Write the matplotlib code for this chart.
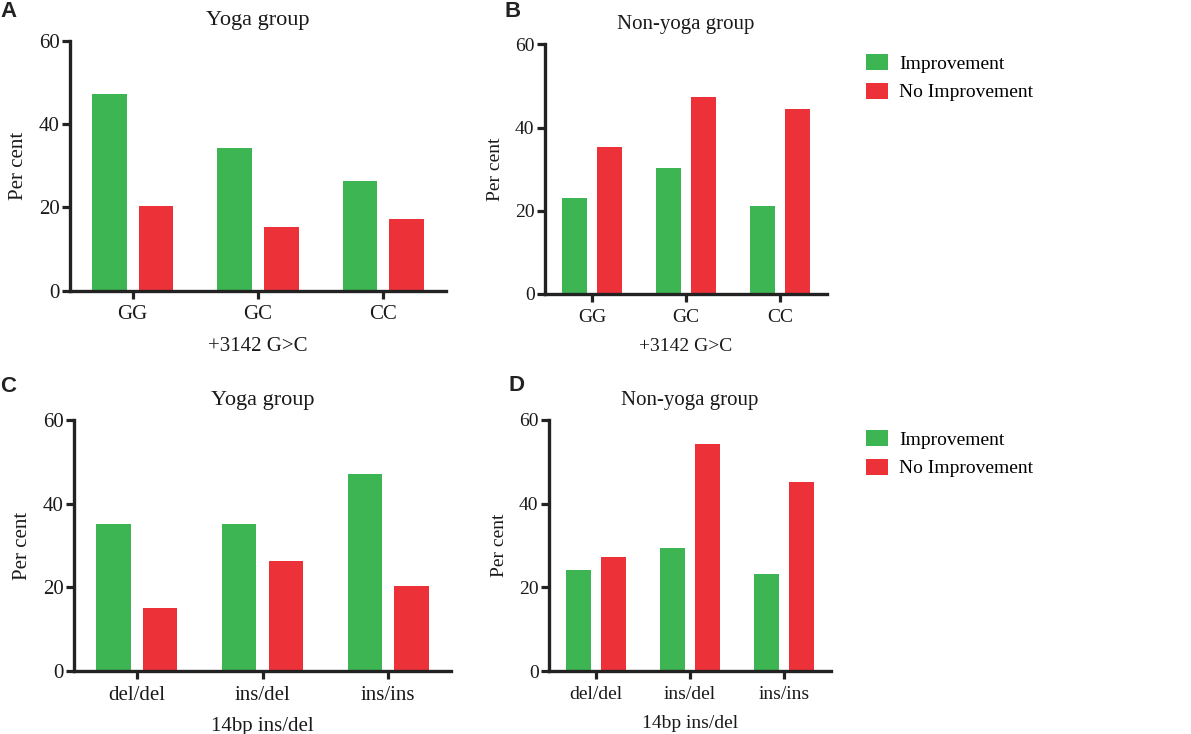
import matplotlib
matplotlib.use("Agg")
import matplotlib.pyplot as plt
from matplotlib.patches import Patch
import numpy as np

# ---- data ----
snp_categories = ["GG", "GC", "CC"]
indel_categories = ["del/del", "ins/del", "ins/ins"]
snp_xlabel = "+3142 G>C"
indel_xlabel = "14bp ins/del"
series_names = ["Improvement", "No Improvement"]

A_improvement = [47.2, 34.2, 26.3]
A_no_improvement = [20.3, 15.3, 17.3]
B_improvement = [23.1, 30.3, 21.2]
B_no_improvement = [35.3, 47.3, 44.4]
C_improvement = [35.2, 35.2, 47.2]
C_no_improvement = [15.1, 26.3, 20.3]
D_improvement = [24.2, 29.3, 23.3]
D_no_improvement = [27.3, 54.2, 45.2]

yticks = [0, 20, 40, 60]
green = "#3db553"
red = "#ec3238"
axis_color = "#222222"

plt.rcParams["font.family"] = ["Liberation Serif", "DejaVu Serif"]

W, H = 1191, 734
fig = plt.figure(figsize=(W / 100, H / 100), dpi=100)


def px_axes(left, top, right, bottom):
    return fig.add_axes([left / W, 1 - bottom / H, (right - left) / W, (bottom - top) / H])


def draw_panel(ax, cats, imp, noimp, title, xlabel, fs, title_fs):
    x = np.arange(len(cats))
    w = 0.275
    off = 0.186
    ax.bar(x - off, imp, width=w, color=green, linewidth=0, zorder=1)
    ax.bar(x + off, noimp, width=w, color=red, linewidth=0, zorder=1)
    ax.set_xlim(-0.5, len(cats) - 0.5)
    ax.set_ylim(0, 60)
    ax.set_yticks(yticks)
    ax.set_xticks(x)
    ax.set_xticklabels(cats, fontsize=fs)
    ax.set_yticklabels([str(t) for t in yticks], fontsize=fs)
    for s in ["top", "right"]:
        ax.spines[s].set_visible(False)
    for s in ["left", "bottom"]:
        ax.spines[s].set_linewidth(2.4)
        ax.spines[s].set_color(axis_color)
    ax.tick_params(axis="both", direction="out", length=5.5, width=2.3,
                   color=axis_color, labelcolor="#1a1a1a")
    ax.tick_params(axis="y", pad=2)
    ax.tick_params(axis="x", pad=5)
    ax.set_title(title, fontsize=title_fs, pad=11, color="#1a1a1a")
    ax.set_xlabel(xlabel, fontsize=fs, labelpad=9, color="#1a1a1a")
    ax.set_ylabel("Per cent", fontsize=fs, labelpad=8, color="#1a1a1a")


axA = px_axes(70, 40.7, 446, 290.7)
axB = px_axes(545, 44.3, 827, 294)
axC = px_axes(74, 420, 451, 671)
axD = px_axes(549, 420, 831, 671)

draw_panel(axA, snp_categories, A_improvement, A_no_improvement, "Yoga group", snp_xlabel, 15, 16)
draw_panel(axB, snp_categories, B_improvement, B_no_improvement, "Non-yoga group", snp_xlabel, 14, 15)
draw_panel(axC, indel_categories, C_improvement, C_no_improvement, "Yoga group", indel_xlabel, 15, 16)
draw_panel(axD, indel_categories, D_improvement, D_no_improvement, "Non-yoga group", indel_xlabel, 14, 15)

handles = [Patch(facecolor=green, edgecolor="none", label=series_names[0]),
           Patch(facecolor=red, edgecolor="none", label=series_names[1])]
for top in (54, 430):
    fig.legend(handles=handles, loc="upper left",
               bbox_to_anchor=(866 / W, 1 - top / H), frameon=False,
               fontsize=14, handlelength=1.15, handleheight=0.9,
               handletextpad=0.55, labelspacing=0.5, borderpad=0, borderaxespad=0)

letter_kw = dict(fontsize=16, fontweight="bold", family=["Liberation Sans", "DejaVu Sans"],
                 color="#222222", va="top", ha="left")
fig.text(0 / W, 1 - 1 / H, "A", **letter_kw)
fig.text(504 / W, 1 - 1 / H, "B", **letter_kw)
fig.text(0 / W, 1 - 376 / H, "C", **letter_kw)
fig.text(509 / W, 1 - 375 / H, "D", **letter_kw)

fig.savefig("out.png", dpi=100)
